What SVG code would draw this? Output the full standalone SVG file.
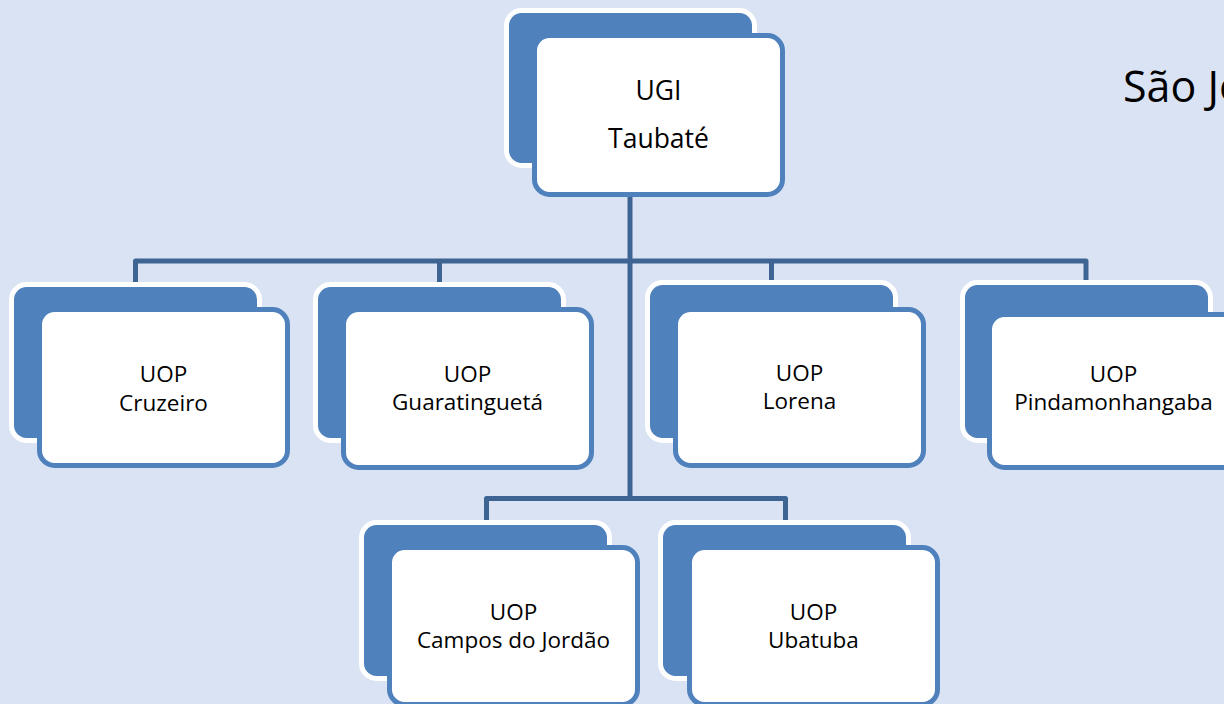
<svg xmlns="http://www.w3.org/2000/svg" width="1224" height="704" viewBox="0 0 1224 704">
<style>
.bg{fill:#DAE3F3}
.back{fill:#4F81BD;stroke:#FFFFFF;stroke-width:5}
.front{fill:#FFFFFF;stroke:#4F81BD;stroke-width:5}
.conn{fill:none;stroke:#3E6494;stroke-width:5;stroke-linejoin:round}
text{font-family:"Open Sans","DejaVu Sans",sans-serif;fill:#000;text-anchor:middle}
.lbl{font-size:22.5px}
.big{font-size:26.5px}
.title{font-size:43px;text-anchor:start}
</style>
<rect class="bg" x="0" y="0" width="1224" height="704"/>
<g id="connectors">
<path class="conn" d="M630,197 V498.5"/>
<path class="conn" d="M135.5,283 V261 H1086 V283"/>
<path class="conn" d="M439.5,261 V283"/>
<path class="conn" d="M771.5,261 V283"/>
<path class="conn" d="M486.5,522 V498.5 H785.5 V522"/>
</g>
<g id="node-ugi">
<rect class="back" x="506.5" y="10.5" width="248" height="155" rx="15"/>
<rect class="front" x="534.5" y="35.5" width="248" height="159" rx="15"/>
<text class="big" x="658.5" y="100">UGI</text>
<text class="big" x="658.5" y="148">Taubaté</text>
</g>
<g id="node-cruzeiro">
<rect class="back" x="11.5" y="284.5" width="248" height="156" rx="15"/>
<rect class="front" x="39.5" y="309.5" width="248" height="156" rx="15"/>
<text class="lbl" x="163.5" y="382">UOP</text>
<text class="lbl" x="163.5" y="411">Cruzeiro</text>
</g>
<g id="node-guaratingueta">
<rect class="back" x="315.5" y="284.5" width="248" height="156" rx="15"/>
<rect class="front" x="343.5" y="309.5" width="248" height="158" rx="15"/>
<text class="lbl" x="467.5" y="382">UOP</text>
<text class="lbl" x="467.5" y="410">Guaratinguetá</text>
</g>
<g id="node-lorena">
<rect class="back" x="647.5" y="282.5" width="248" height="158" rx="15"/>
<rect class="front" x="675.5" y="309.5" width="248" height="156" rx="15"/>
<text class="lbl" x="799.5" y="381">UOP</text>
<text class="lbl" x="799.5" y="409">Lorena</text>
</g>
<g id="node-pindamonhangaba">
<rect class="back" x="962.5" y="282.5" width="248" height="158" rx="15"/>
<rect class="front" x="989.5" y="314.5" width="248" height="153" rx="15"/>
<text class="lbl" x="1113.5" y="382">UOP</text>
<text class="lbl" x="1113.5" y="410">Pindamonhangaba</text>
</g>
<g id="node-campos">
<rect class="back" x="361.5" y="522.5" width="248" height="156" rx="15"/>
<rect class="front" x="389.5" y="547.5" width="248" height="157" rx="15"/>
<text class="lbl" x="513.5" y="620">UOP</text>
<text class="lbl" x="513.5" y="648">Campos do Jordão</text>
</g>
<g id="node-ubatuba">
<rect class="back" x="660.5" y="522.5" width="248" height="156" rx="15"/>
<rect class="front" x="689.5" y="547.5" width="248" height="157" rx="15"/>
<text class="lbl" x="813.5" y="620">UOP</text>
<text class="lbl" x="813.5" y="648">Ubatuba</text>
</g>
<text class="title" x="1123" y="102">São Jo</text>
</svg>
